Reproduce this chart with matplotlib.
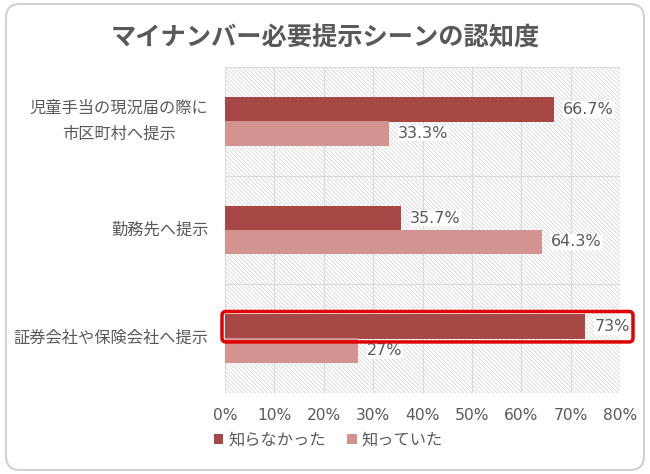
import matplotlib
matplotlib.use("Agg")
import matplotlib.pyplot as plt
from matplotlib.patches import FancyBboxPatch, Patch
from matplotlib.transforms import IdentityTransform
import numpy as np

plt.rcParams['font.family'] = ['Noto Sans CJK JP', 'DejaVu Sans']
plt.rcParams['hatch.color'] = '#d6d6d6'
plt.rcParams['hatch.linewidth'] = 0.6

title = "マイナンバー必要提示シーンの認知度"
categories = ["児童手当の現況届の際に\n市区町村へ提示", "勤務先へ提示", "証券会社や保険会社へ提示"]
series_names = ["知らなかった", "知っていた"]
not_known = [66.7, 35.7, 73]
known = [33.3, 64.3, 27]
not_known_labels = ["66.7%", "35.7%", "73%"]
known_labels = ["33.3%", "64.3%", "27%"]
xticks = [0, 10, 20, 30, 40, 50, 60, 70, 80]
xtick_labels = ["0%", "10%", "20%", "30%", "40%", "50%", "60%", "70%", "80%"]
highlight_index = 2

c_dark = '#A84846'
c_light = '#D39391'
txt = '#595959'
grid_c = '#d9d9d9'
num_font = ['DejaVu Sans']

W, H = 650, 474
fig = plt.figure(figsize=(W / 100, H / 100), dpi=100)
fig.patch.set_facecolor('white')

# outer rounded frame
frame = FancyBboxPatch((6, 4), W - 12, H - 8, boxstyle="round,pad=0,rounding_size=14",
                       transform=IdentityTransform(), facecolor='white',
                       edgecolor='#d0d0d0', linewidth=1.5, zorder=-5)
fig.patches.append(frame)

ax = fig.add_axes([225 / W, (H - 393) / H, (620 - 225) / W, (393 - 67) / H])
ax.set_zorder(2)
ax.set_xlim(0, 80)
ax.set_ylim(2.5, -0.5)
ax.patch.set_facecolor('white')
ax.patch.set_hatch('\\\\\\\\\\\\\\\\')
ax.patch.set_edgecolor('#d6d6d6')
ax.patch.set_linewidth(0)

y = np.arange(len(categories))
off = 0.11
h = 0.225
ax.barh(y - off, not_known, height=h, color=c_dark, zorder=3, label=series_names[0])
ax.barh(y + off, known, height=h, color=c_light, zorder=3, label=series_names[1])

lab_off = 1.8
for yi, v, lab in zip(y - off, not_known, not_known_labels):
    ax.text(v + lab_off, yi, lab, va='center', ha='left', fontsize=11.5, color=txt, family=num_font,
            bbox=dict(facecolor='white', edgecolor='none', pad=0.5), zorder=4, clip_on=False)
for yi, v, lab in zip(y + off, known, known_labels):
    ax.text(v + lab_off, yi, lab, va='center', ha='left', fontsize=11.5, color=txt, family=num_font,
            bbox=dict(facecolor='white', edgecolor='none', pad=0.5), zorder=4, clip_on=False)

# gridlines
for xv in xticks:
    ax.axvline(xv, color=grid_c, lw=0.8, zorder=1)
for yb in np.arange(-0.5, len(categories), 1.0):
    ax.axhline(yb, color=grid_c, lw=0.8, zorder=1)

ax.set_xticks(xticks)
ax.set_xticklabels(xtick_labels, fontsize=11.2, color=txt, family=num_font)
ax.set_yticks(y)
ax.set_yticklabels(categories, fontsize=11.7, color=txt, multialignment='center', linespacing=1.75)
for lbl in ax.get_yticklabels():
    lbl.set_verticalalignment('center')
ax.tick_params(axis='both', length=0)
ax.tick_params(axis='x', pad=11)
ax.tick_params(axis='y', pad=12)
for s in ax.spines.values():
    s.set_visible(False)

fig.text(0.5, (H - 38) / H, title, ha='center', va='center', fontsize=18.2,
         fontweight='bold', color=txt)

handles = [Patch(facecolor=c_dark), Patch(facecolor=c_light)]
fig.legend(handles, series_names, loc='center left', bbox_to_anchor=(199 / W, (H - 440) / H),
           ncol=2, frameon=False, fontsize=11.7, handlelength=0.6, handleheight=0.6,
           handletextpad=0.3, columnspacing=1.3, labelcolor=txt)

# highlight box around the highlighted bar (computed from data)
fig.canvas.draw()
x0, ytop = ax.transData.transform((0, highlight_index - off - h / 2))
x1, ybot = ax.transData.transform((not_known[highlight_index], highlight_index - off + h / 2))
xr = ax.transData.transform((80, 0))[0]
hl = FancyBboxPatch((x0 - 3, ybot - 3), (xr + 13) - (x0 - 3), (ytop - ybot) + 6,
                    boxstyle="round,pad=0,rounding_size=4", transform=IdentityTransform(),
                    facecolor='none', edgecolor='#E00000', linewidth=2.5, zorder=10)
fig.patches.append(hl)

fig.savefig('out.png', dpi=100, facecolor='white')
